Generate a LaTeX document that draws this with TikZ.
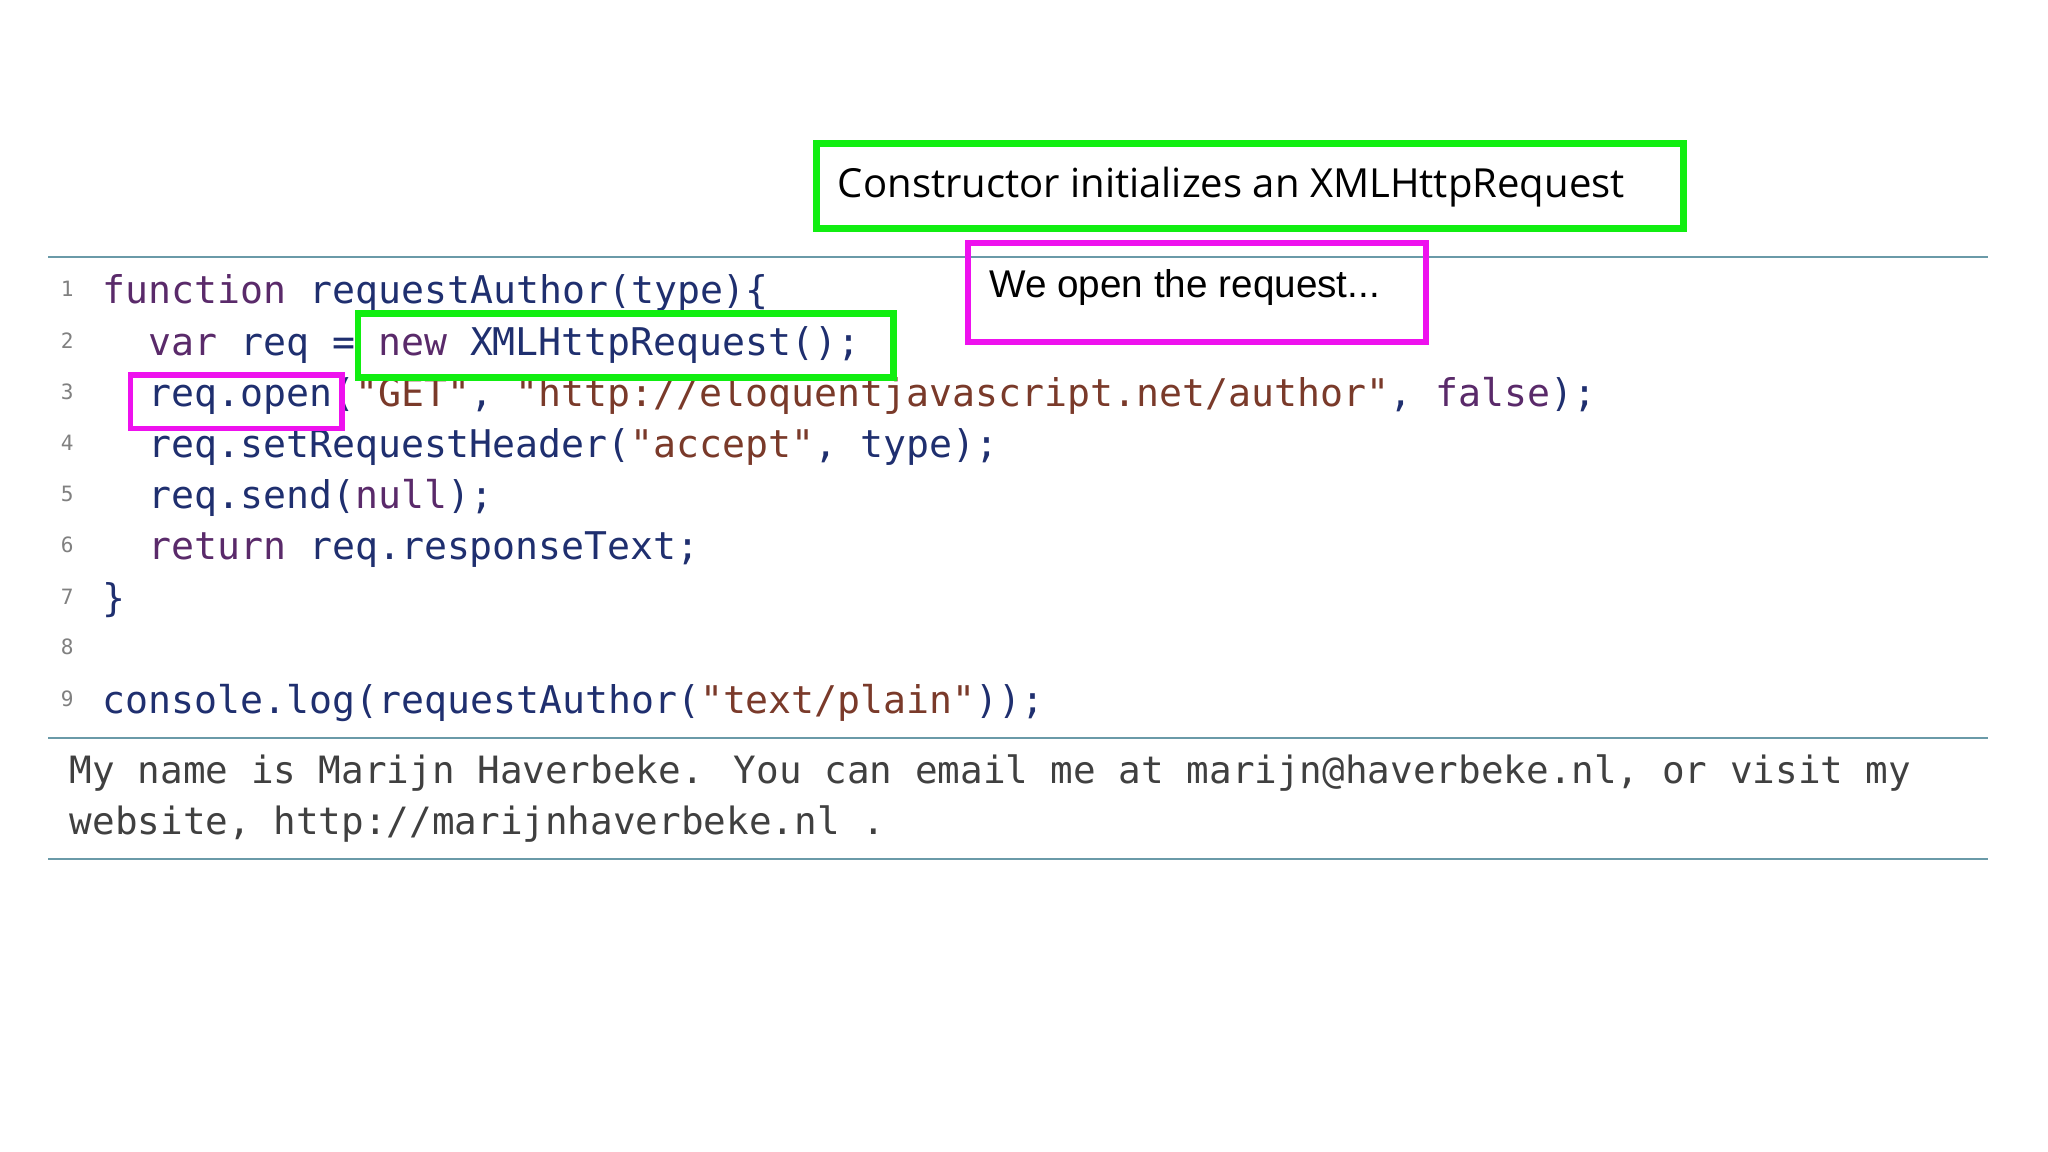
\documentclass[tikz,border=0pt]{standalone}
\usepackage{fontspec}
\setmainfont{Open Sans}
\newfontfamily\arialf{Liberation Sans}
\newfontfamily\codef{DejaVu Sans Mono}
\definecolor{kw}{HTML}{5A2A6A}
\definecolor{nm}{HTML}{1F2F6F}
\definecolor{st}{HTML}{7A3A2A}
\definecolor{rule}{HTML}{6A9AA8}
\definecolor{gbox}{HTML}{11EE11}
\definecolor{mbox}{HTML}{EE11EE}
\begin{document}
\begin{tikzpicture}[x=0.01306cm,y=-0.01306cm,
  code/.style={anchor=base west,inner sep=0,font=\codef\fontsize{10.86}{12}\selectfont,text=nm},
  lnum/.style={anchor=base west,inner sep=0,font=\codef\fontsize{6}{7}\selectfont,text=gray},
  outp/.style={anchor=base west,inner sep=0,font=\codef\fontsize{10.7}{12}\selectfont,text=black!75},
  gframe/.style={draw=gbox,line width=1.9pt},
  mframe/.style={draw=mbox,line width=1.6pt},
  hr/.style={draw=rule,line width=0.6pt}]
\useasboundingbox (0,0) rectangle (1568,882);
\coordinate (l1a) at (37,197); \coordinate (l1b) at (1522,197);
\coordinate (l2a) at (37,565); \coordinate (l2b) at (1522,565);
\coordinate (l3a) at (37,658); \coordinate (l3b) at (1522,658);
\draw[hr] (l1a) -- (l1b);
\draw[hr] (l2a) -- (l2b);
\draw[hr] (l3a) -- (l3b);
\foreach \n/\y in {1/224,2/264,3/303,4/342,5/381,6/420,7/460,8/498,9/538}
  \node[lnum] (n\n) at (46,\y+3) {\n};
\node[code] (c1) at (78,232) {\textcolor{kw}{function} requestAuthor(type)\{};
\node[code] (c2) at (113,272) {\textcolor{kw}{var} req = \textcolor{kw}{new} XMLHttpRequest();};
\node[code] (c3) at (113,311) {req.open(\textcolor{st}{"GET"}, \textcolor{st}{"http://eloquentjavascript.net/author"}, \textcolor{kw}{false});};
\node[code] (c4) at (113,350) {req.setRequestHeader(\textcolor{st}{"accept"}, type);};
\node[code] (c5) at (113,389) {req.send(\textcolor{kw}{null});};
\node[code] (c6) at (113,428) {\textcolor{kw}{return} req.responseText;};
\node[code] (c7) at (78,468) {\}};
\node[code] (c9) at (78,546) {console.log(requestAuthor(\textcolor{st}{"text/plain"}));};
\node[outp] (o1) at (53,600) {My name is Marijn Haverbeke. You can email me at marijn@haverbeke.nl, or visit my};
\node[outp] (o2) at (53,639) {website, http://marijnhaverbeke.nl .};
\draw[gframe] (274,240) rectangle (684,289);
\draw[mframe] (100,287) rectangle (262,328);
\draw[gframe] (625,110) rectangle (1289,175);
\node[anchor=west,inner sep=0,font=\fontsize{11.4}{13}\selectfont] (t1) at (641,143) {Constructor initializes an XMLHttpRequest};
\draw[mframe] (741,186) rectangle (1092,262);
\node[anchor=west,inner sep=0,font=\arialf\fontsize{11}{13}\selectfont] (t2) at (757,220) {We open the request...};
\end{tikzpicture}
\end{document}
